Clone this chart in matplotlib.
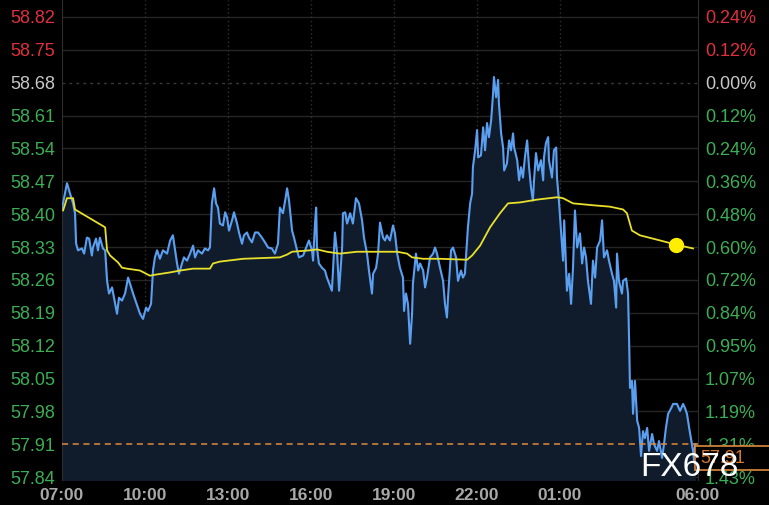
import matplotlib
matplotlib.use("Agg")
import matplotlib.pyplot as plt
import numpy as np

# Данные (часы от 07:00, цена)
prev_close = 58.68
last_price = 57.91
price_ticks = [58.82, 58.75, 58.68, 58.61, 58.54, 58.47, 58.40, 58.33,
               58.26, 58.19, 58.12, 58.05, 57.98, 57.91, 57.84]
time_labels = ['07:00', '10:00', '13:00', '16:00', '19:00', '22:00', '01:00', '06:00']
time_pos = [0, 3, 6, 9, 12, 15, 18, 23]

price_t = [0.00, 0.18, 0.29, 0.40, 0.47, 0.51, 0.58, 0.72, 0.80, 0.90, 0.98, 1.08, 1.12, 1.23, 1.30,
           1.37, 1.48, 1.56, 1.63, 1.70, 1.81, 1.92, 1.99, 2.06, 2.17, 2.28, 2.39, 2.50, 2.57, 2.68,
           2.82, 2.93, 3.04, 3.11, 3.22, 3.29, 3.36, 3.44, 3.54, 3.65, 3.80, 3.91, 4.01, 4.09, 4.16,
           4.23, 4.34, 4.41, 4.52, 4.63, 4.74, 4.81, 4.92, 5.06, 5.17, 5.28, 5.35, 5.42, 5.50, 5.57,
           5.64, 5.71, 5.82, 5.90, 5.97, 6.04, 6.15, 6.22, 6.33, 6.40, 6.51, 6.58, 6.69, 6.76, 6.87,
           6.98, 7.09, 7.23, 7.34, 7.45, 7.59, 7.70, 7.81, 7.88, 7.99, 8.07, 8.14, 8.21, 8.32, 8.39,
           8.50, 8.57, 8.72, 8.82, 8.93, 9.04, 9.08, 9.15, 9.19, 9.22, 9.29, 9.40, 9.51, 9.58, 9.69,
           9.76, 9.80, 9.87, 9.95, 10.02, 10.13, 10.16, 10.24, 10.31, 10.42, 10.52, 10.63, 10.74, 10.85, 10.92,
           11.03, 11.10, 11.21, 11.25, 11.36, 11.43, 11.50, 11.61, 11.68, 11.75, 11.86, 11.97, 12.04, 12.12, 12.22,
           12.33, 12.37, 12.44, 12.51, 12.59, 12.66, 12.69, 12.80, 12.88, 12.95, 13.06, 13.13, 13.20, 13.31, 13.42,
           13.49, 13.56, 13.67, 13.78, 13.85, 13.92, 13.96, 14.07, 14.14, 14.25, 14.32, 14.43, 14.50, 14.57, 14.68,
           14.76, 14.83, 14.86, 14.94, 15.01, 15.05, 15.15, 15.23, 15.30, 15.37, 15.44, 15.52, 15.59, 15.62, 15.70,
           15.77, 15.80, 15.88, 15.95, 15.99, 16.09, 16.17, 16.24, 16.31, 16.35, 16.46, 16.53, 16.60, 16.67, 16.74,
           16.82, 16.89, 16.96, 17.03, 17.07, 17.14, 17.22, 17.32, 17.40, 17.43, 17.50, 17.58, 17.61, 17.72, 17.79,
           17.87, 17.90, 17.97, 18.05, 18.12, 18.16, 18.23, 18.26, 18.34, 18.41, 18.48, 18.55, 18.63, 18.73, 18.81,
           18.88, 18.95, 19.02, 19.13, 19.20, 19.28, 19.35, 19.46, 19.53, 19.60, 19.71, 19.78, 19.89, 19.96, 20.04,
           20.07, 20.14, 20.25, 20.29, 20.40, 20.47, 20.51, 20.54, 20.61, 20.65, 20.72, 20.80, 20.87, 20.94, 21.01,
           21.08, 21.16, 21.23, 21.34, 21.41, 21.52, 21.59, 21.70, 21.77, 21.84, 21.92, 22.03, 22.10, 22.24, 22.35,
           22.46, 22.53, 22.60, 22.68, 22.78, 22.82, 22.86, 22.89]
price_v = [58.412, 58.466, 58.444, 58.423, 58.402, 58.337, 58.323, 58.327, 58.316, 58.350, 58.348, 58.312, 58.329, 58.348, 58.323,
           58.350, 58.327, 58.323, 58.258, 58.231, 58.244, 58.209, 58.188, 58.222, 58.216, 58.231, 58.265, 58.244, 58.231, 58.212,
           58.188, 58.177, 58.201, 58.194, 58.209, 58.280, 58.308, 58.323, 58.305, 58.323, 58.316, 58.344, 58.355, 58.323, 58.295,
           58.273, 58.295, 58.308, 58.301, 58.316, 58.333, 58.308, 58.323, 58.316, 58.327, 58.323, 58.329, 58.423, 58.455, 58.423,
           58.414, 58.380, 58.376, 58.404, 58.393, 58.365, 58.387, 58.404, 58.380, 58.361, 58.337, 58.355, 58.361, 58.350, 58.340,
           58.361, 58.361, 58.350, 58.340, 58.329, 58.327, 58.316, 58.337, 58.414, 58.402, 58.429, 58.455, 58.429, 58.365, 58.350,
           58.323, 58.308, 58.312, 58.327, 58.344, 58.323, 58.301, 58.380, 58.414, 58.329, 58.295, 58.286, 58.280, 58.265, 58.248,
           58.237, 58.280, 58.361, 58.316, 58.237, 58.329, 58.402, 58.404, 58.380, 58.402, 58.380, 58.434, 58.423, 58.387, 58.350,
           58.316, 58.280, 58.231, 58.273, 58.286, 58.316, 58.382, 58.350, 58.344, 58.355, 58.344, 58.376, 58.359, 58.316, 58.286,
           58.265, 58.194, 58.231, 58.209, 58.124, 58.188, 58.252, 58.316, 58.280, 58.295, 58.280, 58.244, 58.265, 58.308, 58.316,
           58.329, 58.316, 58.286, 58.258, 58.209, 58.180, 58.222, 58.323, 58.329, 58.308, 58.258, 58.280, 58.265, 58.273, 58.372,
           58.423, 58.444, 58.500, 58.536, 58.579, 58.521, 58.525, 58.585, 58.536, 58.594, 58.564, 58.600, 58.658, 58.692, 58.649,
           58.686, 58.636, 58.572, 58.542, 58.493, 58.508, 58.557, 58.536, 58.572, 58.542, 58.515, 58.472, 58.500, 58.478, 58.521,
           58.557, 58.500, 58.457, 58.429, 58.472, 58.530, 58.493, 58.515, 58.472, 58.521, 58.551, 58.564, 58.515, 58.478, 58.536,
           58.542, 58.478, 58.429, 58.359, 58.301, 58.387, 58.286, 58.237, 58.273, 58.209, 58.286, 58.408, 58.329, 58.359, 58.295,
           58.329, 58.308, 58.258, 58.209, 58.301, 58.265, 58.329, 58.344, 58.387, 58.308, 58.323, 58.301, 58.273, 58.258, 58.201,
           58.316, 58.258, 58.231, 58.258, 58.263, 58.231, 58.124, 58.030, 58.045, 57.975, 58.045, 57.960, 57.945, 57.885, 57.938,
           57.923, 57.945, 57.896, 57.932, 57.910, 57.896, 57.917, 57.881, 57.910, 57.945, 57.975, 57.987, 57.996, 57.996, 57.981,
           57.996, 57.987, 57.975, 57.945, 57.910, 57.896, 57.874, 57.910]

avg_t = [0.04, 0.18, 0.40, 0.47, 1.56, 1.63, 1.74, 2.03, 2.17, 2.35, 2.82, 3.18, 3.36, 3.91, 4.27,
         4.74, 5.35, 5.46, 5.71, 6.55, 7.88, 8.14, 8.32, 8.97, 9.22, 9.58, 10.05, 10.67, 12.12, 12.48,
         12.66, 13.06, 13.67, 14.65, 14.83, 15.12, 15.48, 15.84, 16.13, 16.56, 17.18, 17.90, 18.12, 18.48, 19.20,
         19.81, 20.29, 20.43, 20.61, 20.90, 21.63, 22.21, 22.82]
avg_v = [58.408, 58.434, 58.434, 58.410, 58.372, 58.323, 58.312, 58.297, 58.286, 58.284, 58.280, 58.269, 58.271, 58.276, 58.280,
         58.284, 58.284, 58.295, 58.299, 58.305, 58.308, 58.314, 58.320, 58.323, 58.325, 58.320, 58.316, 58.320, 58.320, 58.316,
         58.308, 58.305, 58.305, 58.303, 58.312, 58.333, 58.372, 58.402, 58.423, 58.425, 58.431, 58.436, 58.434, 58.423, 58.419,
         58.416, 58.410, 58.402, 58.365, 58.355, 58.344, 58.335, 58.327]
dot_t = 22.21
dot_v = 58.335

red = '#e0303f'
green = '#3cae55'
grey = '#c8c8c8'

fig = plt.figure(figsize=(7.69, 5.05), dpi=100, facecolor='black')
ax = fig.add_axes([62 / 769, 25 / 505, 636 / 769, 480 / 505])
ax.set_facecolor('black')
ax.set_xlim(0, 23)
ax.set_ylim(57.834, 58.856)

# сетка
for p in price_ticks:
    if p == prev_close:
        ax.axhline(p, color='#3a3a3a', lw=1, ls=(0, (2, 3)), zorder=1)
    else:
        ax.axhline(p, color='#262626', lw=1, zorder=1)
for t in time_pos[1:-1]:
    ax.axvline(t, color='#333333', lw=1, ls=(0, (1, 2)), zorder=1)

ax.fill_between(price_t, price_v, 57.834, color='#101c2c', zorder=2)
ax.plot(price_t, price_v, color='#5a9ff0', lw=1.5, zorder=3)
ax.plot(avg_t, avg_v, color='#e8e02a', lw=1.3, zorder=4)
ax.plot([dot_t], [dot_v], 'o', color='#ffee00', ms=10, zorder=5)

ax.axhline(last_price, color='#e08a3c', lw=1.1, ls=(0, (4, 3)), zorder=4)

for s in ax.spines.values():
    s.set_visible(False)
ax.spines['left'].set_visible(True)
ax.spines['left'].set_color('#2e2e2e')
ax.spines['right'].set_visible(True)
ax.spines['right'].set_color('#2e2e2e')

def col(p):
    if p > prev_close:
        return red
    if p < prev_close:
        return green
    return grey

ax.set_yticks(price_ticks)
ax.set_yticklabels(['%.2f' % p for p in price_ticks], fontsize=13, family='Liberation Sans')
for lab, p in zip(ax.get_yticklabels(), price_ticks):
    lab.set_color(col(p))
ax.tick_params(axis='y', length=0, pad=5)

ax.set_xticks(time_pos)
ax.set_xticklabels(time_labels, fontsize=12.5, family='Liberation Sans', fontweight='bold', color='#a8a8a8')
ax.tick_params(axis='x', length=0, pad=6)

ax2 = ax.twinx()
ax2.set_ylim(ax.get_ylim())
ax2.set_yticks(price_ticks)
ax2.set_yticklabels(['%.2f%%' % (abs(p - prev_close) / prev_close * 100) for p in price_ticks],
                    fontsize=13, family='Liberation Sans')
for lab, p in zip(ax2.get_yticklabels(), price_ticks):
    lab.set_color(col(p))
ax2.tick_params(axis='y', length=0, pad=5)
for s in ax2.spines.values():
    s.set_visible(False)

# метка последней цены
y_frac = ax.transData.transform((0, last_price))[1] / fig.bbox.height
box = plt.Rectangle((695 / 769, y_frac - 26 / 505), 80 / 769, 24 / 505, transform=fig.transFigure,
                    facecolor='black', edgecolor='#e08a3c', lw=1.2, zorder=10)
fig.patches.append(box)
fig.text(700 / 769, y_frac - 14 / 505, '%.2f' % last_price, color='#d47a30', fontsize=13,
         family='Liberation Sans', va='center', ha='left', zorder=11)

fig.text(689 / 769, 37 / 505, 'FX678', color='white', fontsize=24, family='Liberation Sans',
         ha='center', va='center', zorder=12)

fig.savefig('out.png', dpi=100, facecolor='black')
